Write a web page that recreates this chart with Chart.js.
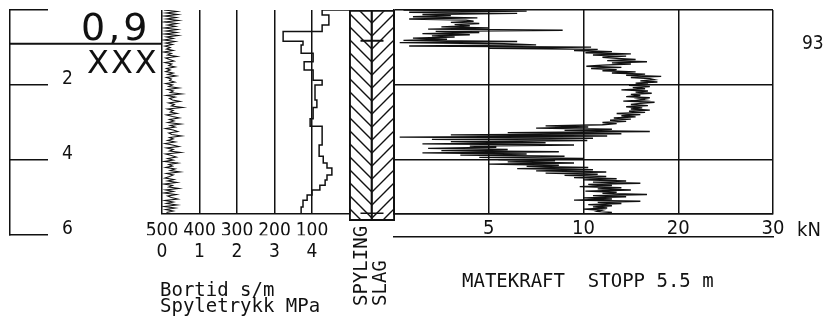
<!DOCTYPE html>
<html>
<head>
<meta charset="utf-8">
<script src="https://cdn.jsdelivr.net/npm/chart.js@4/dist/chart.umd.min.js"></script>
<style>
  body { margin: 0; background: #fff; }
  #wrap { position: relative; width: 824px; height: 331px; overflow: hidden; background: #fff; }
  canvas { position: absolute; left: 0; top: 0; }
  .t { position: absolute; font: 19px 'DejaVu Sans Mono', monospace; line-height: 19px; white-space: pre; color: #111; }
  .v { transform-origin: 0 0; transform: rotate(-90deg); }
  .h { font-family: 'DejaVu Sans', sans-serif; }
  .n { font-family: 'DejaVu Sans Condensed', sans-serif; }
</style>
</head>
<body>
<div id="wrap">
  <canvas id="cDepth" width="824" height="331"></canvas>
  <canvas id="cBor" width="824" height="331"></canvas>
  <canvas id="cFlush" width="824" height="331"></canvas>
  <canvas id="cMk" width="824" height="331"></canvas>

  <div class="t h" style="left:81px;top:8px;font-size:38px;line-height:38px;letter-spacing:3px;">0,9</div>
  <div class="t h" style="left:87px;top:46px;font-size:32px;line-height:32px;letter-spacing:2px;">XXX</div>
  <div class="t n" style="left:802px;top:33px;font-size:19px;line-height:19px;">93</div>
  <div class="t n" style="left:797px;top:219px;font-size:20px;line-height:20px;">kN</div>
  <div class="t" style="left:160px;top:280px;">Bortid s/m</div>
  <div class="t" style="left:160px;top:296px;">Spyletrykk MPa</div>
  <div class="t" style="left:462px;top:271px;">MATEKRAFT  STOPP 5.5 m</div>
  <div class="t v" style="left:351px;top:306px;">SPYLING</div>
  <div class="t v" style="left:370px;top:306px;">SLAG</div>
</div>

<script>
const INK = '#111';
const COND = "'DejaVu Sans Condensed', sans-serif";

// depth marks (m)
const MARKER_DEPTH = 0.9;
const COLUMN_MARK = 0.82;
const STOP_DEPTH = 5.42;

// spyletrykk (MPa), one reading every 0.04 m
const SPYLE_STEP = 0.04;
const SPYLETRYKK = [
  0.05, 0.40, 0.10, 0.42, 0.08, 0.38, 0.12, 0.44, 0.06, 0.40, 0.15, 0.36, 0.05, 0.41, 0.10, 0.39, 0.08, 0.43, 0.12, 0.30, 0.06, 0.35, 0.10,
  0.28, 0.08, 0.22, 0.12, 0.30, 0.05, 0.25, 0.15, 0.40, 0.10, 0.20, 0.32, 0.08, 0.26, 0.18, 0.35, 0.12, 0.22, 0.10, 0.30, 0.16, 0.38, 0.12, 0.25, 0.20, 0.34, 0.10,
  0.28, 0.18, 0.45, 0.15, 0.30, 0.22, 0.52, 0.12, 0.35, 0.20, 0.28, 0.48, 0.18, 0.33, 0.25, 0.55, 0.15, 0.30, 0.22, 0.40, 0.12, 0.28, 0.46, 0.20, 0.32, 0.16, 0.50, 0.22, 0.35, 0.10, 0.30, 0.42, 0.18, 0.26, 0.52, 0.20, 0.30,
  0.15, 0.35, 0.08, 0.28, 0.45, 0.12, 0.30, 0.20, 0.50, 0.10, 0.25, 0.38, 0.15, 0.30, 0.05, 0.42, 0.18, 0.28, 0.10, 0.35, 0.22, 0.48, 0.12, 0.30, 0.20,
  0.08, 0.32, 0.15, 0.40, 0.06, 0.28, 0.18, 0.45, 0.10, 0.30, 0.05, 0.38, 0.15, 0.25, 0.42, 0.08, 0.30, 0.12, 0.40, 0.06, 0.35, 0.10, 0.30, 0.12
];

// bortid (s/m) per depth interval
const BORTID_FROM = [0, 0.13, 0.40, 0.57, 0.83, 0.93, 1.15, 1.38, 1.60, 1.87, 2.00, 2.40, 2.60, 2.90, 3.10, 3.60, 3.90, 4.08, 4.21, 4.40, 4.53, 4.67, 4.80, 4.93, 5.07, 5.25];
const BORTID_TO   = [0.13, 0.40, 0.57, 0.83, 0.93, 1.15, 1.38, 1.60, 1.87, 2.00, 2.40, 2.60, 2.90, 3.10, 3.60, 3.90, 4.08, 4.21, 4.40, 4.53, 4.67, 4.80, 4.93, 5.07, 5.25, 5.42];
const BORTID      = [73, 55, 73, 177, 124, 129, 97, 121, 97, 73, 92, 87, 97, 105, 73, 81, 70, 60, 47, 60, 65, 79, 100, 113, 124, 129];

// spyling / slag columns
const FLUSH_COLS = ['SPYLING', 'SLAG'];
const FLUSH_FROM = [0, 0];
const FLUSH_TO = [5.62, 5.62];

// matekraft (kN), one reading every 0.03 m
const MK_STEP = 0.03;
const MATEKRAFT = [
  0.5, 7.0, 0.8, 6.5, 1.5, 3.0, 1.0, 4.4, 0.8, 3.8, 4.2, 3.0, 4.5, 3.2, 4.0, 2.5, 5.0, 1.8, 8.9, 2.2, 4.5, 1.5, 4.0, 2.0, 3.2, 1.0, 2.8, 0.5, 6.5, 0.3, 5.8, 7.5,
  0.8, 10.8, 5.0, 11.5, 9.5, 13.0, 10.2, 15.0, 11.0, 14.5, 12.0, 13.5, 15.5, 12.5, 16.7, 13.0, 15.0, 12.0,
  10.3, 14.0, 10.8, 13.5, 12.0, 15.5, 13.0, 16.5, 14.5, 18.2, 15.0, 17.0,
  17.5, 16.0, 17.8, 15.5, 16.8, 14.8, 17.0, 15.2, 16.5, 14.0, 16.8, 15.5, 17.2, 15.0, 16.0, 14.5, 17.0, 15.8, 16.5, 14.2,
  17.5, 16.0, 15.0, 16.8, 14.5, 16.2, 15.0, 17.0, 14.8, 16.5, 13.5, 16.0, 14.0, 15.5, 13.2, 15.0, 12.8, 14.5, 12.0, 13.5,
  12.0, 8.0, 10.5, 7.5, 13.0, 9.0, 17.0, 6.0, 14.0, 3.0, 12.5, 0.3, 11.0, 2.0, 10.4,
  3.0, 8.0, 1.5, 9.5, 4.0, 5.4, 1.8, 6.0, 2.5, 8.7, 1.5, 7.0, 3.5, 9.0, 4.5, 10.0, 5.5, 8.5,
  6.0, 9.5, 5.0, 8.7, 7.0, 10.5, 6.5, 11.0, 7.5, 12.4, 8.0, 11.5, 9.0,
  12.4, 9.5, 13.5, 10.0, 14.5, 11.0, 16.0, 10.5, 13.0, 9.8, 14.0, 11.5, 15.0, 10.2, 13.5, 12.0, 16.7,
  11.0, 14.5, 10.0, 13.0, 9.5, 16.0, 11.5, 14.0, 10.5, 13.0, 11.0, 12.5, 10.0, 12.0, 11.5, 13.0
];
const KN_TICKS = [0, 5, 10, 20, 30];

// kN axis: 0-10 on the first half, 10-30 on the second half
class SplitScale extends Chart.LinearScale {
  static id = 'split';
  static defaults = {};
  getPixelForValue(v) {
    const f = v <= 10 ? v / 20 : 0.5 + (v - 10) / 40;
    return this.getPixelForDecimal(f);
  }
  getValueForPixel(p) {
    const f = this.getDecimalForPixel(p);
    return f <= 0.5 ? f * 20 : 10 + (f - 0.5) * 40;
  }
}
Chart.register(SplitScale);

const base = {
  responsive: false,
  animation: false,
  events: [],
  plugins: { legend: { display: false }, tooltip: { enabled: false } },
};
const smallFont = { family: COND, size: 19 };
const bigFont = { family: COND, size: 20 };

// depth axis + 0.9 m marker
new Chart(document.getElementById('cDepth'), {
  type: 'line',
  data: {
    datasets: [{
      data: [{ x: 0, y: MARKER_DEPTH }, { x: 1, y: MARKER_DEPTH }],
      borderColor: INK, borderWidth: 2, pointRadius: 0,
    }],
  },
  options: {
    ...base,
    layout: { padding: { left: 0, right: 662, top: 10, bottom: 96 } },
    scales: {
      x: { type: 'linear', min: 0, max: 1, display: false },
      y: {
        type: 'linear', position: 'left', min: 0, max: 6, reverse: true,
        afterFit: s => { s.width = 10; s.paddingTop = 0; s.paddingBottom = 0; },
        border: { display: true, color: INK, width: 1.5 },
        grid: { drawOnChartArea: false, drawTicks: true, tickLength: -38, color: INK, lineWidth: 1.5 },
        ticks: {
          stepSize: 2, mirror: true, padding: 52, labelOffset: -6, color: INK,
          font: smallFont,
          callback: v => (v === 0 ? '' : v),
        },
      },
    },
  },
});

// bortid / spyletrykk panel
const bortidPts = [{ x: 0, y: BORTID_FROM[0] }];
BORTID.forEach((v, i) => {
  bortidPts.push({ x: v, y: BORTID_FROM[i] }, { x: v, y: BORTID_TO[i] });
});

new Chart(document.getElementById('cBor'), {
  type: 'line',
  data: {
    datasets: [
      {
        xAxisID: 'xp',
        data: SPYLETRYKK.map((v, i) => ({ x: v, y: i * SPYLE_STEP })),
        borderColor: INK, borderWidth: 1.1, pointRadius: 0,
      },
      {
        xAxisID: 'xb',
        data: bortidPts,
        borderColor: INK, borderWidth: 1.5, pointRadius: 0,
      },
    ],
  },
  options: {
    ...base,
    indexAxis: 'y',
    layout: { padding: { left: 162, right: 474.5, top: 10, bottom: 73.75 } },
    scales: {
      y: { type: 'linear', min: 0, max: STOP_DEPTH, reverse: true, display: false },
      xb: {
        type: 'linear', position: 'bottom', weight: 0, min: 0, max: 500, reverse: true,
        afterFit: s => { s.height = 22; },
        border: { display: true, color: INK, width: 1.5 },
        grid: { color: INK, lineWidth: 1.5, drawTicks: false },
        ticks: {
          stepSize: 100, padding: 6, color: INK, font: smallFont,
          maxRotation: 0, minRotation: 0, autoSkip: false,
          callback: v => (v === 0 ? '' : v),
        },
      },
      xp: {
        type: 'linear', position: 'bottom', weight: 1, min: 0, max: 5,
        afterFit: s => { s.height = 22; },
        border: { display: false },
        grid: { display: false, drawTicks: false },
        ticks: {
          stepSize: 1, padding: 5, color: INK, font: smallFont,
          maxRotation: 0, minRotation: 0, autoSkip: false,
          callback: v => (v === 5 ? '' : v),
        },
      },
    },
  },
});

// spyling / slag hatched columns
const flushCanvas = document.getElementById('cFlush');
function hatch(dir) {
  const s = 13;
  const c = document.createElement('canvas');
  c.width = s; c.height = s;
  const g = c.getContext('2d');
  g.strokeStyle = INK;
  g.lineWidth = 1.4;
  g.beginPath();
  if (dir < 0) {
    g.moveTo(-1, -1); g.lineTo(s + 1, s + 1);
    g.moveTo(s - 2, -2); g.lineTo(s + 2, 2);
    g.moveTo(-2, s - 2); g.lineTo(2, s + 2);
  } else {
    g.moveTo(-1, s + 1); g.lineTo(s + 1, -1);
    g.moveTo(-2, 2); g.lineTo(2, -2);
    g.moveTo(s - 2, s + 2); g.lineTo(s + 2, s - 2);
  }
  g.stroke();
  const p = flushCanvas.getContext('2d').createPattern(c, 'repeat');
  p.setTransform(new DOMMatrix().translate(372, 10));
  return p;
}

new Chart(flushCanvas, {
  type: 'bar',
  data: {
    labels: FLUSH_COLS,
    datasets: [
      {
        xAxisID: 'x',
        data: FLUSH_FROM.map((f, i) => [f, FLUSH_TO[i]]),
        backgroundColor: [hatch(-1), hatch(1)],
        borderColor: INK,
        borderWidth: c => (c.dataIndex === 0
          ? { top: 1.5, left: 1.5, bottom: 1.5, right: 1 }
          : { top: 1.5, left: 0.5, bottom: 1.5, right: 1.5 }),
        borderSkipped: false,
        grouped: false,
        barPercentage: 1, categoryPercentage: 1,
      },
      {
        type: 'line', xAxisID: 'xl',
        data: [{ x: 0, y: COLUMN_MARK }, { x: 1, y: COLUMN_MARK }],
        borderColor: INK, borderWidth: 2, pointRadius: 0,
      },
      {
        type: 'line', xAxisID: 'xl',
        data: [{ x: 0, y: STOP_DEPTH }, { x: 1, y: STOP_DEPTH }],
        borderColor: INK, borderWidth: 1.5, pointRadius: 0,
      },
    ],
  },
  options: {
    ...base,
    layout: { padding: { left: 349, right: 429, top: 10, bottom: 96 } },
    scales: {
      x: { type: 'category', display: false, offset: true },
      xl: { type: 'linear', min: 0, max: 1, display: false },
      y: { type: 'linear', min: 0, max: 6, reverse: true, display: false },
    },
  },
});

// matekraft panel
new Chart(document.getElementById('cMk'), {
  type: 'line',
  data: {
    datasets: [{
      xAxisID: 'x',
      data: MATEKRAFT.map((v, i) => ({ x: v, y: i * MK_STEP })),
      borderColor: INK, borderWidth: 1.3, pointRadius: 0,
    }],
  },
  options: {
    ...base,
    indexAxis: 'y',
    layout: { padding: { left: 394, right: 51, top: 10, bottom: 92.75 } },
    scales: {
      y: {
        type: 'linear', min: 0, max: STOP_DEPTH, reverse: true,
        afterFit: s => { s.width = 0; },
        border: { display: true, color: INK, width: 1.5 },
        grid: { color: INK, lineWidth: 1.5, drawTicks: false },
        ticks: { stepSize: 2, display: false },
      },
      x: {
        type: 'split', position: 'bottom', weight: 0, min: 0, max: 30,
        afterBuildTicks: s => { s.ticks = KN_TICKS.map(v => ({ value: v })); },
        afterFit: s => { s.height = 23; },
        border: { display: true, color: INK, width: 1.5 },
        grid: { color: INK, lineWidth: 1.5, drawTicks: false },
        ticks: {
          padding: 4, color: INK, font: bigFont,
          maxRotation: 0, minRotation: 0, autoSkip: false,
          callback: v => (v === 0 ? '' : String(v)),
        },
      },
      x2: {
        type: 'linear', position: 'bottom', weight: 1, min: 0, max: 1,
        afterFit: s => { s.height = 2; },
        border: { display: true, color: INK, width: 1.5 },
        grid: { display: false, drawTicks: false },
        ticks: { display: false },
      },
    },
  },
});
</script>
</body>
</html>
